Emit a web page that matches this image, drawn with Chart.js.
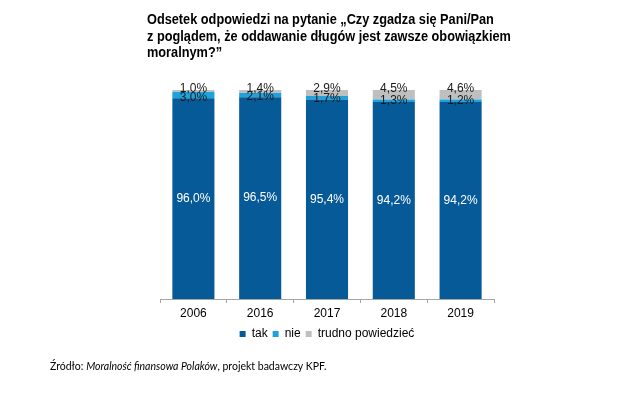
<!DOCTYPE html>
<html>
<head>
<meta charset="utf-8">
<script src="https://cdn.jsdelivr.net/npm/chart.js@4.4.1/dist/chart.umd.min.js"></script>
<style>
  html, body { margin: 0; padding: 0; background: #fff; }
  #wrap { position: relative; width: 640px; height: 409px; overflow: hidden; }
  #title { position: absolute; left: 147px; top: 11px; font: bold 14px "Liberation Sans", Arial, sans-serif; line-height: 16.5px; color: #000; white-space: nowrap; transform: scaleX(0.91); transform-origin: 0 0; }
  #source { position: absolute; left: 50px; top: 360px; font: 10.5px "Lato", "Liberation Sans", sans-serif; color: #000; white-space: nowrap; }
  canvas { position: absolute; left: 0; top: 0; }
</style>
</head>
<body>
<div id="wrap">
  <canvas id="c" width="640" height="409"></canvas>
  <div id="title">Odsetek odpowiedzi na pytanie „Czy zgadza się Pani/Pan<br>z poglądem, że oddawanie długów jest zawsze obowiązkiem<br>moralnym?”</div>
  <div id="source">Źródło: <i>Moralność finansowa Polaków</i>, projekt badawczy KPF.</div>
</div>
<script>
const categories = ["2006", "2016", "2017", "2018", "2019"];
const seriesNames = ["tak", "nie", "trudno powiedzieć"];
const takValues = [96.0, 96.5, 95.4, 94.2, 94.2];
const nieValues = [3.0, 2.1, 1.7, 1.3, 1.2];
const trudnoValues = [1.0, 1.4, 2.9, 4.5, 4.6];
const colors = ["#065A97", "#1CA3DD", "#BFBFBF"];

const fmt = v => v.toFixed(1).replace('.', ',') + '%';

const labelPlugin = {
  id: 'segLabels',
  afterDatasetsDraw(chart) {
    const ctx = chart.ctx;
    ctx.save();
    ctx.font = '12px "Liberation Sans", Arial, sans-serif';
    ctx.textAlign = 'center';
    ctx.textBaseline = 'middle';
    chart.data.datasets.forEach((ds, di) => {
      const meta = chart.getDatasetMeta(di);
      meta.data.forEach((el, i) => {
        const v = ds.data[i];
        let y;
        if (di === 0) { y = (el.y + el.base) / 2; ctx.fillStyle = '#FFFFFF'; }
        else if (di === 1) { y = el.base - 1; ctx.fillStyle = '#1a1a1a'; }
        else { y = el.y - 1; ctx.fillStyle = '#1a1a1a'; }
        ctx.fillText(fmt(v), el.x, y);
      });
    });
    ctx.restore();
  }
};

new Chart(document.getElementById('c'), {
  type: 'bar',
  data: {
    labels: categories,
    datasets: [
      { label: seriesNames[0], data: takValues, backgroundColor: colors[0] },
      { label: seriesNames[1], data: nieValues, backgroundColor: colors[1] },
      { label: seriesNames[2], data: trudnoValues, backgroundColor: colors[2] }
    ]
  },
  options: {
    responsive: false,
    animation: false,
    layout: { padding: { left: 160, right: 146, top: 90, bottom: 59 } },
    datasets: { bar: { categoryPercentage: 1, barPercentage: 0.63 } },
    scales: {
      x: {
        stacked: true,
        afterFit: (s) => { s.height = 24; },
        grid: { display: true, drawOnChartArea: false, drawTicks: true, tickLength: 4, color: '#a6a6a6', offset: true },
        border: { display: true, color: '#a6a6a6' },
        ticks: { color: '#000', font: { family: '"Liberation Sans", Arial, sans-serif', size: 12 }, padding: 3 }
      },
      y: { stacked: true, display: false, min: 0, max: 100 }
    },
    plugins: {
      legend: {
        position: 'bottom',
        labels: { boxWidth: 6, boxHeight: 6, color: '#000', padding: 5, font: { family: '"Liberation Sans", Arial, sans-serif', size: 12 } }
      },
      tooltip: { enabled: false },
      title: { display: false }
    }
  },
  plugins: [labelPlugin]
});
</script>
</body>
</html>
